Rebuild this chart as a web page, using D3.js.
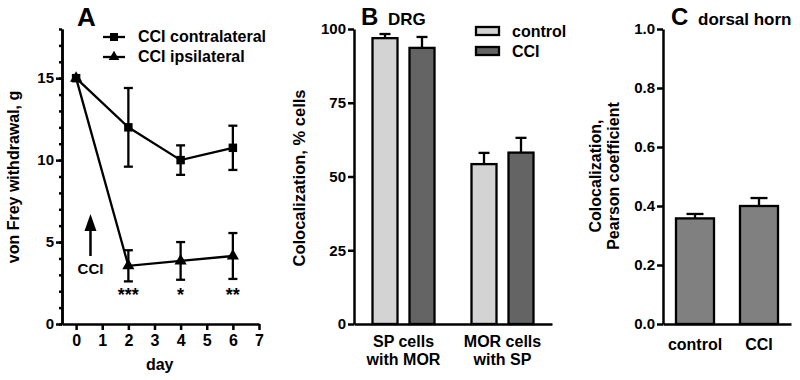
<!DOCTYPE html>
<html>
<head>
<meta charset="utf-8">
<script src="https://cdn.jsdelivr.net/npm/d3@7"></script>
<style>
  body { margin: 0; background: #fff; }
  svg text { font-family: "Liberation Sans", Arial, sans-serif; font-weight: bold; fill: #000; }
  .axis path, .axis line { stroke: #000; stroke-width: 2.5px; }
  .axis text { font-size: 15px; }
</style>
</head>
<body>
<svg id="chart" width="800" height="380"></svg>
<script>
////////////////////// Data //////////////////////
// Panel A: von Frey time course
const days = [0, 2, 4, 6];
const contraMean = [15, 12, 10, 10.75];
const contraErr = [0, 2.4, 0.9, 1.35];
const ipsiMean = [15, 3.55, 3.85, 4.15];
const ipsiErr = [0, 0.95, 1.15, 1.4];
const ipsiStars = ["", "***", "*", "**"];

// Panel B: DRG colocalization
const groupsB = ["SP cells|with MOR", "MOR cells|with SP"];
const seriesB = ["control", "CCI"];
const controlB = [96.9, 54.2];
const controlBErr = [1.4, 3.8];
const cciB = [93.6, 58.1];
const cciBErr = [3.7, 5.0];

// Panel C: dorsal horn Pearson coefficient
const groupsC = ["control", "CCI"];
const valuesC = [0.358, 0.40];
const errC = [0.015, 0.027];

const svg = d3.select("#chart");
const yBottom = 324, yTop = 29;

/////////////// Panel A ///////////////
const xA = d3.scaleLinear().domain([-0.54, 7]).range([62, 259]);
const yA = d3.scaleLinear().domain([0, 18]).range([yBottom, yTop]);
const gA = svg.append("g");

// minor ticks
gA.append("g").attr("class", "axis")
  .attr("transform", `translate(${xA.range()[0]},0)`)
  .call(d3.axisLeft(yA).tickValues(d3.range(0, 19)).tickSize(3).tickSizeOuter(0).tickFormat(""));
gA.append("g").attr("class", "axis")
  .attr("transform", `translate(${xA.range()[0]},0)`)
  .call(d3.axisLeft(yA).tickValues([0, 5, 10, 15]).tickSize(6).tickSizeOuter(0).tickPadding(2));
gA.append("g").attr("class", "axis")
  .attr("transform", `translate(0,${yBottom})`)
  .call(d3.axisBottom(xA).tickValues(d3.range(0, 8)).tickSize(6).tickSizeOuter(0).tickPadding(5))
  .selectAll("text").style("font-size", "16px");

gA.append("text").attr("x", xA(3.2)).attr("y", 370).attr("text-anchor", "middle")
  .style("font-size", "16px").text("day");
gA.append("text").attr("transform", "translate(19,177) rotate(-90)")
  .attr("text-anchor", "middle").style("font-size", "16px").text("von Frey withdrawal, g");
gA.append("text").attr("x", 77).attr("y", 26).style("font-size", "26px").text("A");

const line = d3.line().x(d => xA(d[0])).y(d => yA(d[1]));

function drawSeries(means, errs, shape) {
  const pts = days.map((d, i) => [d, means[i]]);
  gA.append("path").attr("d", line(pts)).attr("fill", "none")
    .attr("stroke", "#000").attr("stroke-width", 2.3);
  days.forEach((d, i) => {
    if (errs[i] <= 0) return;
    const x = xA(d), y0 = yA(means[i] - errs[i]), y1 = yA(means[i] + errs[i]);
    gA.append("line").attr("x1", x).attr("x2", x).attr("y1", y0).attr("y2", y1)
      .attr("stroke", "#000").attr("stroke-width", 2.3);
    [y0, y1].forEach(y => gA.append("line").attr("x1", x - 4.5).attr("x2", x + 4.5)
      .attr("y1", y).attr("y2", y).attr("stroke", "#000").attr("stroke-width", 2.3));
  });
  gA.selectAll(null).data(pts).enter().append("path")
    .attr("transform", d => `translate(${xA(d[0])},${yA(d[1])})`)
    .attr("d", d3.symbol().type(shape).size(shape === d3.symbolSquare ? 72 : 64))
    .attr("fill", "#000");
}
drawSeries(ipsiMean, ipsiErr, d3.symbolTriangle);
drawSeries(contraMean, contraErr, d3.symbolSquare);

gA.selectAll(".star").data(days).enter().append("text")
  .attr("x", d => xA(d)).attr("y", 301).attr("text-anchor", "middle")
  .style("font-size", "18px").text((d, i) => ipsiStars[i]);

// CCI arrow
const arrowX = xA(0.55);
gA.append("line").attr("x1", arrowX).attr("x2", arrowX).attr("y1", 256).attr("y2", 226)
  .attr("stroke", "#000").attr("stroke-width", 2.5);
gA.append("path").attr("d", `M${arrowX - 6},231 L${arrowX},214 L${arrowX + 6},231 Z`).attr("fill", "#000");
gA.append("text").attr("x", arrowX).attr("y", 274).attr("text-anchor", "middle")
  .style("font-size", "15px").text("CCI");

// legend A
const legA = [["CCI contralateral", d3.symbolSquare, 37], ["CCI ipsilateral", d3.symbolTriangle, 57]];
legA.forEach(([label, shape, y]) => {
  gA.append("line").attr("x1", 103).attr("x2", 125).attr("y1", y).attr("y2", y)
    .attr("stroke", "#000").attr("stroke-width", 2.3);
  gA.append("path").attr("transform", `translate(114,${y})`)
    .attr("d", d3.symbol().type(shape).size(shape === d3.symbolSquare ? 64 : 50)).attr("fill", "#000");
  gA.append("text").attr("x", 138).attr("y", y + 5).style("font-size", "16px").text(label);
});

/////////////// Panel B ///////////////
const x0B = d3.scaleBand().domain(groupsB).range([354, 552]).paddingInner(0).paddingOuter(0);
const x1B = d3.scaleBand().domain(seriesB).range([-31, 31]).paddingInner(0.3243);
const yB = d3.scaleLinear().domain([0, 100]).range([yBottom, yTop]);
const colorB = { control: "#d3d3d3", CCI: "#646464" };
const gB = svg.append("g");

const dataB = groupsB.map((g, i) => [
  { group: g, key: "control", v: controlB[i], e: controlBErr[i] },
  { group: g, key: "CCI", v: cciB[i], e: cciBErr[i] }
]).flat();

dataB.forEach(d => {
  const cx = x0B(d.group) + x0B.bandwidth() / 2 + x1B(d.key) + x1B.bandwidth() / 2;
  gB.append("line").attr("x1", cx).attr("x2", cx).attr("y1", yB(d.v)).attr("y2", yB(d.v + d.e))
    .attr("stroke", "#000").attr("stroke-width", 2.3);
  gB.append("line").attr("x1", cx - 5.5).attr("x2", cx + 5.5).attr("y1", yB(d.v + d.e)).attr("y2", yB(d.v + d.e))
    .attr("stroke", "#000").attr("stroke-width", 2.3);
  gB.append("rect")
    .attr("x", x0B(d.group) + x0B.bandwidth() / 2 + x1B(d.key))
    .attr("y", yB(d.v)).attr("width", x1B.bandwidth()).attr("height", yB(0) - yB(d.v))
    .attr("fill", colorB[d.key]).attr("stroke", "#000").attr("stroke-width", 2.3);
});

gB.append("g").attr("class", "axis").attr("transform", "translate(354,0)")
  .call(d3.axisLeft(yB).tickValues([0, 25, 50, 75, 100]).tickSize(6).tickSizeOuter(0).tickPadding(2));
gB.append("g").attr("class", "axis").attr("transform", `translate(0,${yBottom})`)
  .call(d3.axisBottom(x0B).tickSize(0).tickSizeOuter(0).tickPadding(0).tickFormat(""));
groupsB.forEach(g => {
  const t = gB.append("text").attr("text-anchor", "middle").style("font-size", "16px");
  g.split("|").forEach((s, i) => t.append("tspan")
    .attr("x", x0B(g) + x0B.bandwidth() / 2).attr("y", 347 + i * 18).text(s));
});

gB.append("text").attr("transform", "translate(305,178) rotate(-90)")
  .attr("text-anchor", "middle").style("font-size", "16.5px").text("Colocalization, % cells");
gB.append("text").attr("x", 361).attr("y", 25).style("font-size", "24px").text("B");
gB.append("text").attr("x", 388).attr("y", 25).style("font-size", "17px").text("DRG");

seriesB.forEach((s, i) => {
  const y = 27 + i * 20;
  gB.append("rect").attr("x", 476).attr("y", y).attr("width", 23).attr("height", 8)
    .attr("fill", colorB[s]).attr("stroke", "#000").attr("stroke-width", 2.3);
  gB.append("text").attr("x", 512).attr("y", y + 10).style("font-size", "16px").text(s);
});

/////////////// Panel C ///////////////
const xC = d3.scaleBand().domain(groupsC).range([663, 791]).paddingInner(0.406).paddingOuter(0.203);
const yC = d3.scaleLinear().domain([0, 1]).range([yBottom, yTop]);
const gC = svg.append("g");

groupsC.forEach((g, i) => {
  const cx = xC(g) + xC.bandwidth() / 2;
  const top = yC(valuesC[i] + errC[i]);
  gC.append("line").attr("x1", cx).attr("x2", cx).attr("y1", yC(valuesC[i])).attr("y2", top)
    .attr("stroke", "#000").attr("stroke-width", 2.3);
  gC.append("line").attr("x1", cx - 8.5).attr("x2", cx + 8.5).attr("y1", top).attr("y2", top)
    .attr("stroke", "#000").attr("stroke-width", 2.3);
  gC.append("rect").attr("x", xC(g)).attr("y", yC(valuesC[i]))
    .attr("width", xC.bandwidth()).attr("height", yC(0) - yC(valuesC[i]))
    .attr("fill", "#808080").attr("stroke", "#000").attr("stroke-width", 2.3);
});

gC.append("g").attr("class", "axis").attr("transform", "translate(663,0)")
  .call(d3.axisLeft(yC).tickValues(d3.range(0, 1.01, 0.2)).tickFormat(d3.format(".1f"))
    .tickSize(6).tickSizeOuter(0).tickPadding(2));
gC.append("g").attr("class", "axis").attr("transform", `translate(0,${yBottom})`)
  .call(d3.axisBottom(xC).tickSize(0).tickSizeOuter(0).tickPadding(15))
  .selectAll("text").style("font-size", "16px");

const yl = gC.append("text").attr("transform", "translate(604,176) rotate(-90)")
  .attr("text-anchor", "middle").style("font-size", "16px");
yl.append("tspan").attr("x", 0).attr("y", -3).text("Colocalization,");
yl.append("tspan").attr("x", 0).attr("y", 15).text("Pearson coefficient");
gC.append("text").attr("x", 671).attr("y", 25).style("font-size", "24px").text("C");
gC.append("text").attr("x", 698).attr("y", 25).style("font-size", "17px").text("dorsal horn");
</script>
</body>
</html>
